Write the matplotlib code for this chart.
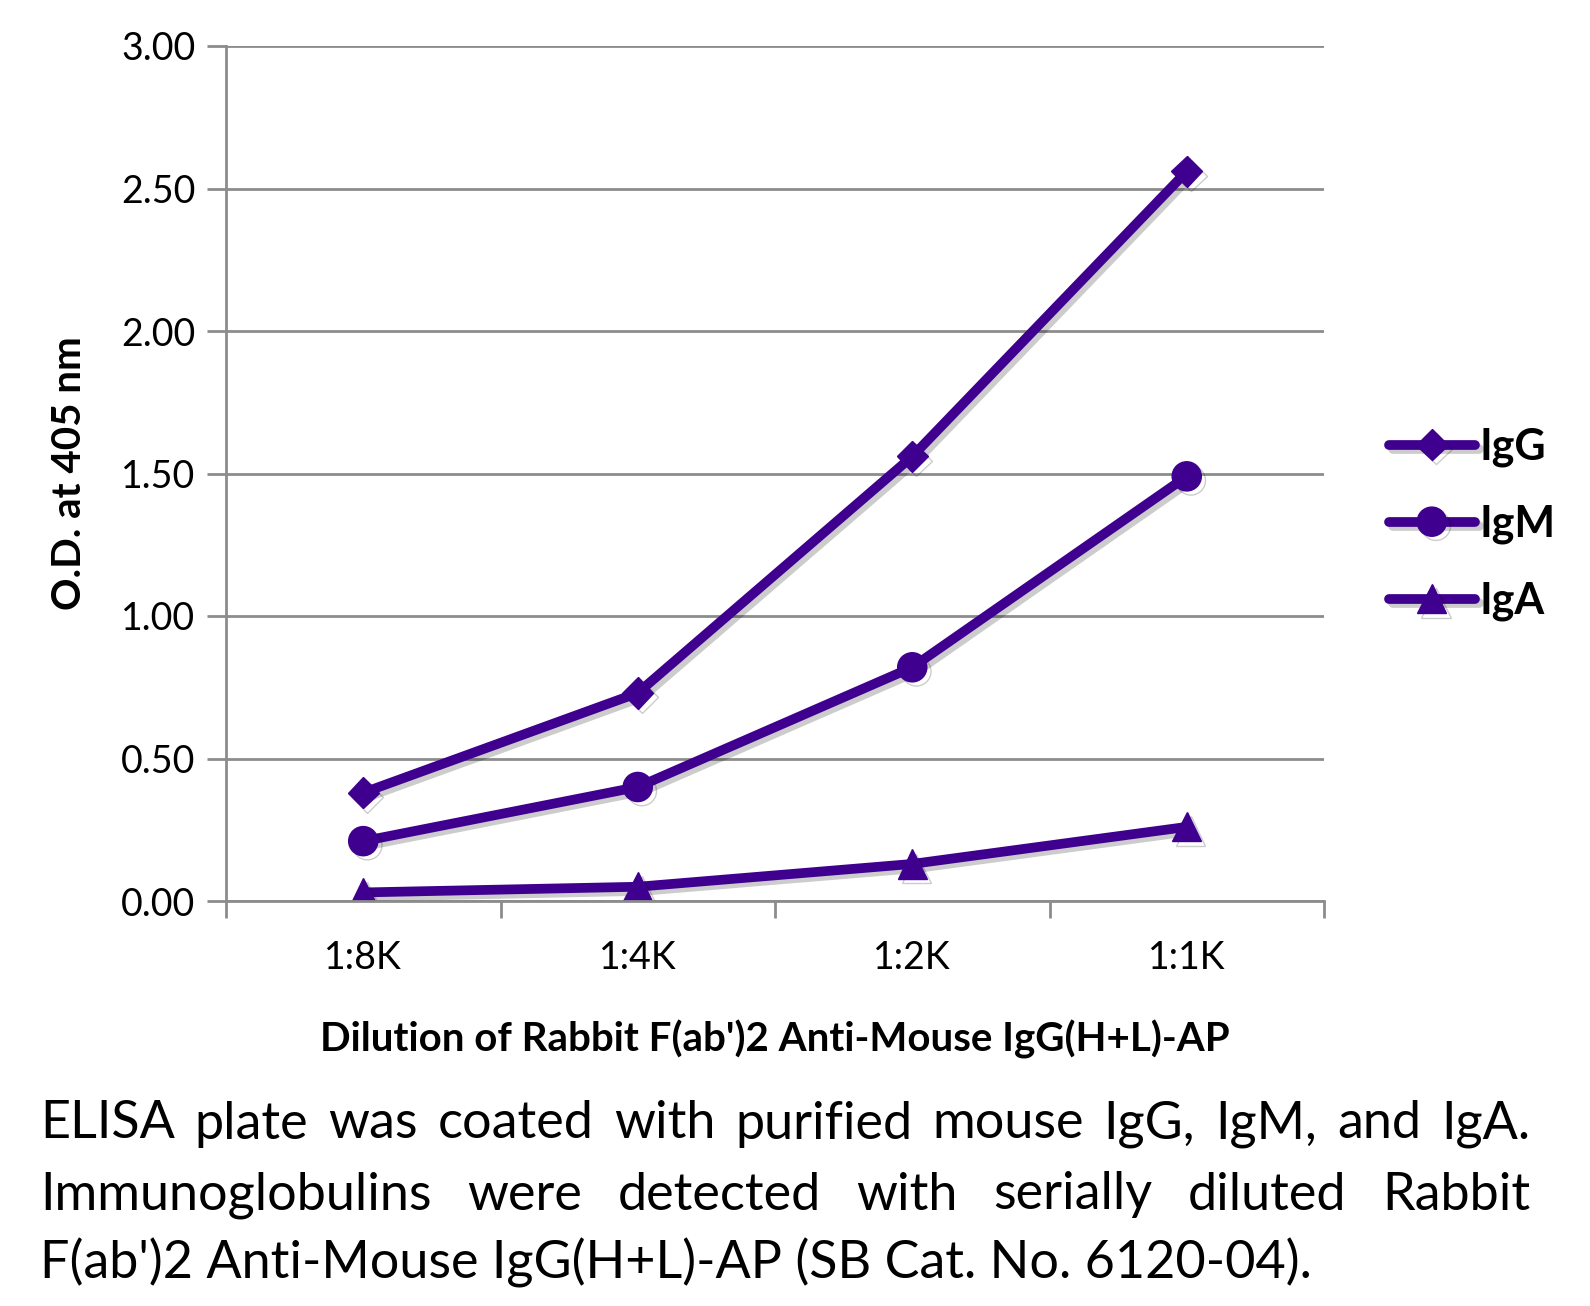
import numpy as np
import matplotlib
matplotlib.use("Agg")
import matplotlib.pyplot as plt
import matplotlib.patheffects as pe

# ------------ data ------------
dilutions = ["1:8K", "1:4K", "1:2K", "1:1K"]
igg = [0.38, 0.73, 1.56, 2.56]
igm = [0.21, 0.40, 0.82, 1.49]
iga = [0.03, 0.05, 0.13, 0.26]
yticks = [0.0, 0.5, 1.0, 1.5, 2.0, 2.5, 3.0]

caption = ["ELISA plate was coated with purified mouse IgG, IgM, and IgA.",
           "Immunoglobulins were detected with serially diluted Rabbit",
           "F(ab')2 Anti-Mouse IgG(H+L)-AP (SB Cat. No. 6120-04)."]

purple = "#40008f"
grid_c = "#8c8c8c"
font = "Lato"

# ------------ figure ------------
fig = plt.figure(figsize=(15.9, 13.06), dpi=100)
ax = fig.add_axes([226/1590, 1-901/1306, (1324-226)/1590, (901-46)/1306])

x = np.arange(len(dilutions))
shadow = [pe.SimpleLineShadow(offset=(3, -3), shadow_color="k", alpha=0.2), pe.Normal()]
ax.plot(x, igg, color=purple, lw=7, marker="D", ms=16, label="IgG", path_effects=shadow,
        solid_capstyle="round")
ax.plot(x, igm, color=purple, lw=7, marker="o", ms=21, label="IgM", path_effects=shadow,
        solid_capstyle="round")
ax.plot(x, iga, color=purple, lw=7, marker="^", ms=21, label="IgA", path_effects=shadow,
        solid_capstyle="round")

ax.set_xlim(-0.5, len(dilutions)-0.5)
ax.set_ylim(0, 3.0)
ax.set_yticks(yticks)
ax.set_yticklabels(["%.2f" % v for v in yticks], fontsize=27, family=font)
ax.set_xticks(x)
ax.set_xticklabels(dilutions, fontsize=27, family=font)
ax.set_xticks(np.arange(len(dilutions)+1)-0.5, minor=True)
ax.tick_params(axis="x", which="major", length=0, pad=28)
ax.tick_params(axis="x", which="minor", length=12, width=2, color=grid_c)
ax.tick_params(axis="y", length=14, width=2, color=grid_c, pad=8)
ax.yaxis.grid(True, color=grid_c, lw=2)
ax.set_axisbelow(True)
for s in ["top", "right"]:
    ax.spines[s].set_visible(False)
for s in ["left", "bottom"]:
    ax.spines[s].set_color(grid_c)
    ax.spines[s].set_linewidth(2)

ax.set_xlabel("Dilution of Rabbit F(ab')2 Anti-Mouse IgG(H+L)-AP", fontsize=29,
              fontweight="bold", family=font, labelpad=32)
ax.set_ylabel("O.D. at 405 nm", fontsize=29, fontweight="bold", family=font, labelpad=24)

leg = fig.legend(loc="center left", bbox_to_anchor=(1350/1590, 1-524/1306), frameon=False,
                 handlelength=2.0, handletextpad=0.1, labelspacing=0.85,
                 prop={"family": font, "weight": "bold", "size": 31})

# caption, justified like a text block
left, right = 40/1590, 1530/1590
ys = [1124, 1195, 1263]
fig.canvas.draw()
r = fig.canvas.get_renderer()
for i, line in enumerate(caption):
    yy = 1 - ys[i]/1306
    words = line.split(" ")
    if i == len(caption) - 1:
        fig.text(left, yy, line, fontsize=37.5, family=font, va="center")
        continue
    texts = [fig.text(0, yy, w, fontsize=37.5, family=font, va="center") for w in words]
    widths = [t.get_window_extent(r).width / 1590 for t in texts]
    gap = (right - left - sum(widths)) / (len(words) - 1)
    pos = left
    for t, w in zip(texts, widths):
        t.set_x(pos)
        pos += w + gap

fig.savefig("out.png", dpi=100)
